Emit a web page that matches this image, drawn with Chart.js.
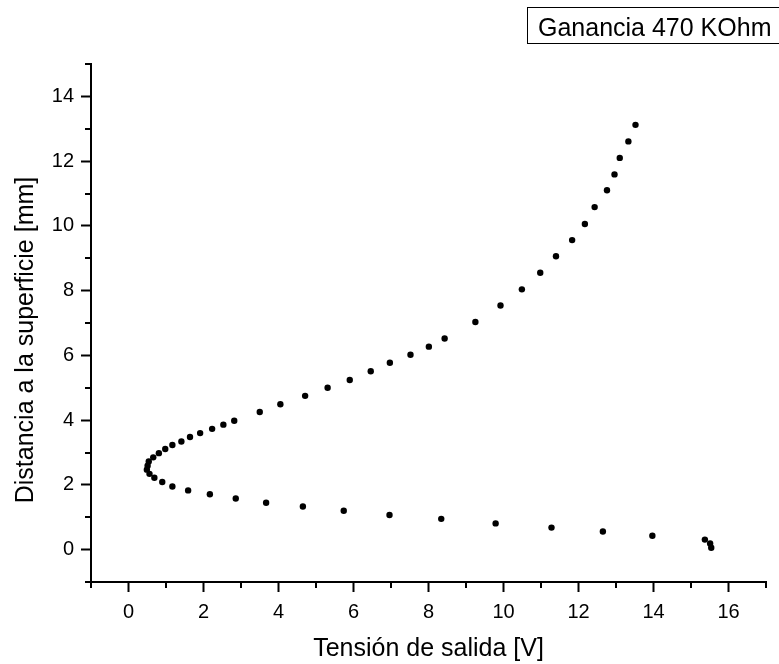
<!DOCTYPE html>
<html>
<head>
<meta charset="utf-8">
<script src="https://cdn.jsdelivr.net/npm/chart.js@4"></script>
<style>
  html, body { margin: 0; padding: 0; background: #fff; }
  #wrap { width: 779px; height: 664px; }
</style>
</head>
<body>
<div id="wrap"><canvas id="chart" width="779" height="664"></canvas></div>
<script>
// tension de salida [V] vs distancia [mm]
const tension = [15.54, 15.51, 15.37, 13.97, 12.65, 11.28, 9.79, 8.34, 6.96, 5.74,
  4.65, 3.67, 2.86, 2.17, 1.59, 1.17, 0.90, 0.69, 0.56, 0.49,
  0.51, 0.54, 0.66, 0.81, 0.98, 1.17, 1.41, 1.64, 1.91, 2.23,
  2.53, 2.82, 3.50, 4.05, 4.71, 5.31, 5.90, 6.46, 6.97, 7.52,
  8.01, 8.43, 9.25, 9.92, 10.49, 10.98, 11.40, 11.83, 12.17, 12.43,
  12.76, 12.96, 13.10, 13.33, 13.52];
const distancia = [0.06, 0.19, 0.31, 0.43, 0.56, 0.68, 0.81, 0.95, 1.07, 1.20,
  1.33, 1.45, 1.58, 1.71, 1.83, 1.95, 2.09, 2.22, 2.34, 2.47,
  2.59, 2.72, 2.85, 2.98, 3.11, 3.23, 3.34, 3.48, 3.60, 3.73,
  3.86, 3.98, 4.25, 4.49, 4.75, 5.00, 5.24, 5.51, 5.77, 6.02,
  6.27, 6.52, 7.03, 7.54, 8.04, 8.55, 9.06, 9.56, 10.06, 10.58,
  11.10, 11.59, 12.10, 12.61, 13.12];

const xTicks = [0, 2, 4, 6, 8, 10, 12, 14, 16];
const yTicks = [0, 2, 4, 6, 8, 10, 12, 14];
const legendText = 'Ganancia 470 KOhm';
const yTitle = 'Distancia a la superficie [mm]';

const FONT = 'Liberation Sans, Arial, sans-serif';

// minor ticks (odd values) are shorter, Origin-style
const minorTicks = {
  id: 'minorTicks',
  afterDraw(chart) {
    const { ctx, chartArea: a, scales: { x, y } } = chart;
    ctx.save();
    ctx.strokeStyle = '#000';
    ctx.lineWidth = 2;
    ctx.beginPath();
    for (let v = x.min; v <= x.max; v++) {
      if (xTicks.includes(v)) continue;
      const px = Math.round(x.getPixelForValue(v));
      ctx.moveTo(px, a.bottom);
      ctx.lineTo(px, a.bottom + 6);
    }
    for (let v = y.min; v <= y.max; v++) {
      if (yTicks.includes(v)) continue;
      const py = Math.round(y.getPixelForValue(v));
      ctx.moveTo(a.left, py);
      ctx.lineTo(a.left - 6, py);
    }
    ctx.stroke();
    ctx.restore();
  }
};

// text box in the top right corner + y title (sits a bit below centre in the original)
const extras = {
  id: 'extras',
  afterDraw(chart) {
    const ctx = chart.ctx;
    ctx.save();
    ctx.strokeStyle = '#000';
    ctx.lineWidth = 1;
    ctx.strokeRect(527.5, 7.5, 260, 36);
    ctx.fillStyle = '#000';
    ctx.font = '25px ' + FONT;
    ctx.textBaseline = 'alphabetic';
    ctx.fillText(legendText, 538, 36);

    ctx.translate(26, 340);
    ctx.rotate(-Math.PI / 2);
    ctx.textAlign = 'center';
    ctx.textBaseline = 'middle';
    ctx.fillText(yTitle, 0, 0);
    ctx.restore();
  }
};

const isMajor = (list) => (c) => list.includes(c.tick.value) ? '#000' : 'rgba(0,0,0,0)';

new Chart(document.getElementById('chart'), {
  type: 'scatter',
  data: {
    datasets: [{
      label: legendText,
      data: tension.map((t, i) => ({ x: t, y: distancia[i] })),
      backgroundColor: '#000',
      borderWidth: 0,
      pointRadius: 3.2,
      pointHoverRadius: 3.2
    }]
  },
  options: {
    responsive: false,
    animation: false,
    layout: { padding: { top: 64, right: 13, left: 0, bottom: 0 } },
    plugins: { legend: { display: false }, tooltip: { enabled: false } },
    scales: {
      x: {
        type: 'linear', min: -1, max: 17,
        afterFit: s => { s.height = 82; },
        border: { display: true, color: '#000', width: 2 },
        grid: { drawOnChartArea: false, drawTicks: true, tickLength: 10, tickWidth: 2, tickColor: isMajor(xTicks) },
        ticks: {
          stepSize: 1, autoSkip: false, maxRotation: 0, padding: 8,
          color: '#000', font: { family: FONT, size: 20 },
          callback: v => xTicks.includes(v) ? String(v) : ''
        },
        title: { display: true, text: 'Tensión de salida [V]', color: '#000',
                 font: { family: FONT, size: 25 }, padding: { top: 0, bottom: 0 } }
      },
      y: {
        type: 'linear', min: -1, max: 15,
        afterFit: s => { s.width = 91; },
        border: { display: true, color: '#000', width: 2 },
        grid: { drawOnChartArea: false, drawTicks: true, tickLength: 10, tickWidth: 2, tickColor: isMajor(yTicks) },
        ticks: {
          stepSize: 1, autoSkip: false, padding: 7,
          color: '#000', font: { family: FONT, size: 20 },
          callback: v => yTicks.includes(v) ? String(v) : ''
        },
        title: { display: false }
      }
    }
  },
  plugins: [minorTicks, extras]
});
</script>
</body>
</html>
